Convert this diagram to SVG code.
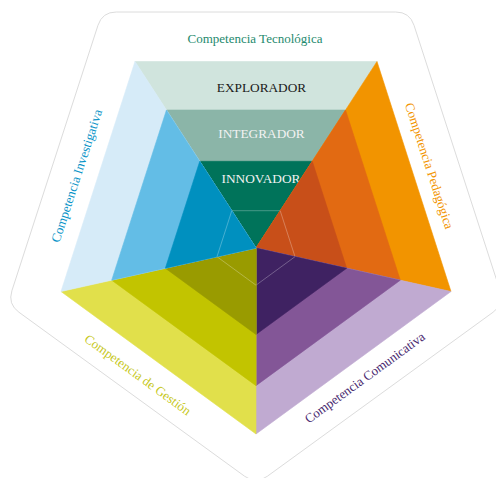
<svg xmlns="http://www.w3.org/2000/svg" width="496" height="478" viewBox="0 0 496 478">
<style>
  .lbl { font-family: "Liberation Serif", "DejaVu Serif", serif; font-size: 13px; }
  .lvl { font-family: "Liberation Serif", "DejaVu Serif", serif; font-size: 13.3px; text-anchor: middle; }
  .seg { stroke-width: 0.6; stroke-linejoin: round; }
  .thin { stroke: #ffffff; stroke-opacity: 0.35; stroke-width: 0.8; fill: none; }
</style>
<rect width="496" height="478" fill="#ffffff"/>
<g id="frame">
  <path d="M116.3,12 L395.7,12 Q409.7,12 414.02,25.31 L500.08,290.69 Q504.4,304 493.07,312.23 L267.33,476.27 Q256,484.5 244.67,476.27 L18.93,312.23 Q7.6,304 11.92,290.69 L97.98,25.31 Q102.3,12 116.3,12 Z" fill="none" stroke="#dcdcdc" stroke-width="1"/>
</g>
<g id="tecnologica">
  <polygon class="seg" points="135,61.5 377,61.5 256,248" fill="#d0e4dd" stroke="#d0e4dd"/>
  <polygon class="seg" points="166.46,110 345.54,110 256,248" fill="#8bb5a8" stroke="#8bb5a8"/>
  <polygon class="seg" points="199.74,161.3 312.27,161.3 256,248" fill="#00735a" stroke="#00735a"/>
  <line class="thin" x1="231.8" y1="210.7" x2="280.2" y2="210.7"/>
  <text class="lbl" x="255" y="42.5" text-anchor="middle" fill="#1e8a6e">Competencia Tecnológica</text>
  <text class="lvl" x="261.5" y="92" fill="#1a1a1a">EXPLORADOR</text>
  <text class="lvl" x="261.5" y="137.5" fill="#f2f2f2">INTEGRADOR</text>
  <text class="lvl" x="261" y="182.5" fill="#f2f2f2">INNOVADOR</text>
</g>
<g id="pedagogica">
  <polygon class="seg" points="377,61.5 451,291.5 256,248" fill="#f29400" stroke="#f29400"/>
  <polygon class="seg" points="345.54,110 400.3,280.19 256,248" fill="#e26a12" stroke="#e26a12"/>
  <polygon class="seg" points="312.27,161.3 346.68,268.23 256,248" fill="#c84f19" stroke="#c84f19"/>
  <line class="thin" x1="280.2" y1="210.7" x2="295" y2="256.7"/>
  <text class="lbl" transform="translate(425.2,167.2) rotate(72)" text-anchor="middle" fill="#f29400">Competencia Pedagógica</text>
</g>
<g id="comunicativa">
  <polygon class="seg" points="451,291.5 256,434 256,248" fill="#c0aad1" stroke="#c0aad1"/>
  <polygon class="seg" points="400.3,280.19 256,385.64 256,248" fill="#835697" stroke="#835697"/>
  <polygon class="seg" points="346.68,268.23 256,334.49 256,248" fill="#3f2262" stroke="#3f2262"/>
  <line class="thin" x1="295" y1="256.7" x2="256" y2="285.2"/>
  <text class="lbl" transform="translate(367.4,381.2) rotate(-36)" text-anchor="middle" fill="#4a2a70">Competencia Comunicativa</text>
</g>
<g id="gestion">
  <polygon class="seg" points="256,434 61,291.5 256,248" fill="#e1e04b" stroke="#e1e04b"/>
  <polygon class="seg" points="256,385.64 111.7,280.19 256,248" fill="#c2c400" stroke="#c2c400"/>
  <polygon class="seg" points="256,334.49 165.33,268.23 256,248" fill="#999b00" stroke="#999b00"/>
  <line class="thin" x1="256" y1="285.2" x2="217" y2="256.7"/>
  <text class="lbl" transform="translate(135.2,378.2) rotate(36)" text-anchor="middle" fill="#c6c720">Competencia de Gestión</text>
</g>
<g id="investigativa">
  <polygon class="seg" points="61,291.5 135,61.5 256,248" fill="#d6ebf8" stroke="#d6ebf8"/>
  <polygon class="seg" points="111.7,280.19 166.46,110 256,248" fill="#63bde6" stroke="#63bde6"/>
  <polygon class="seg" points="165.33,268.23 199.74,161.3 256,248" fill="#0090bf" stroke="#0090bf"/>
  <line class="thin" x1="217" y1="256.7" x2="231.8" y2="210.7"/>
  <text class="lbl" transform="translate(80.8,177.2) rotate(-72)" text-anchor="middle" fill="#0a94c8">Competencia Investigativa</text>
</g>
</svg>
